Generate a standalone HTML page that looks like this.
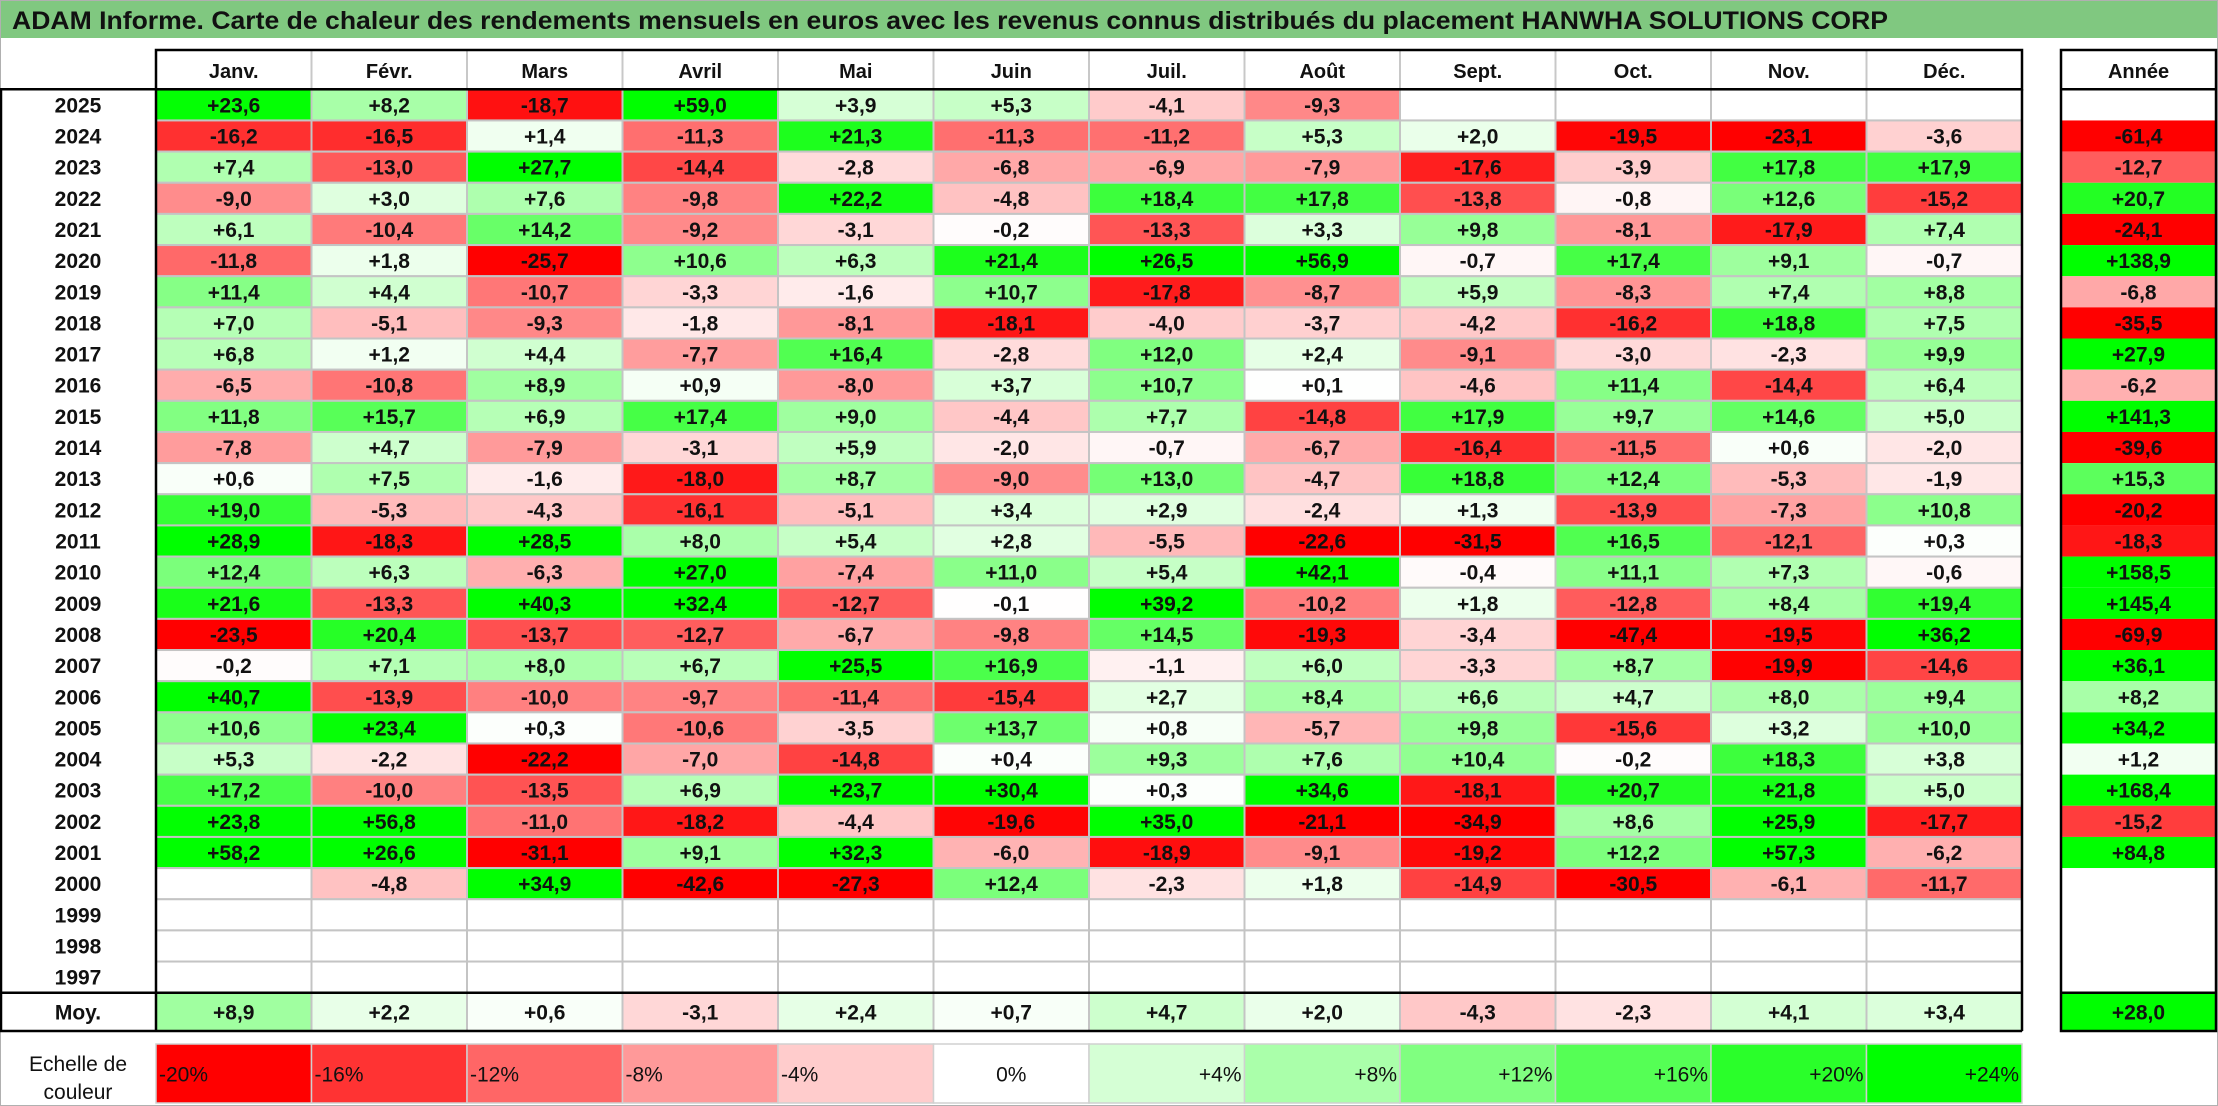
<!DOCTYPE html>
<html><head><meta charset="utf-8">
<style>
html,body{margin:0;padding:0;background:#fff;}
svg{display:block;font-family:"Liberation Sans",sans-serif;}
</style></head>
<body>
<svg id="chart" width="2218" height="1106" viewBox="0 0 2218 1106" xmlns="http://www.w3.org/2000/svg"></svg>
<script>
const months = ["Janv.","Févr.","Mars","Avril","Mai","Juin","Juil.","Août","Sept.","Oct.","Nov.","Déc."];
const years = [2025,2024,2023,2022,2021,2020,2019,2018,2017,2016,2015,2014,2013,2012,2011,2010,2009,2008,2007,2006,2005,2004,2003,2002,2001,2000,1999,1998,1997];
const N = null;
const monthly = [
[23.6,8.2,-18.7,59.0,3.9,5.3,-4.1,-9.3,N,N,N,N],
[-16.2,-16.5,1.4,-11.3,21.3,-11.3,-11.2,5.3,2.0,-19.5,-23.1,-3.6],
[7.4,-13.0,27.7,-14.4,-2.8,-6.8,-6.9,-7.9,-17.6,-3.9,17.8,17.9],
[-9.0,3.0,7.6,-9.8,22.2,-4.8,18.4,17.8,-13.8,-0.8,12.6,-15.2],
[6.1,-10.4,14.2,-9.2,-3.1,-0.2,-13.3,3.3,9.8,-8.1,-17.9,7.4],
[-11.8,1.8,-25.7,10.6,6.3,21.4,26.5,56.9,-0.7,17.4,9.1,-0.7],
[11.4,4.4,-10.7,-3.3,-1.6,10.7,-17.8,-8.7,5.9,-8.3,7.4,8.8],
[7.0,-5.1,-9.3,-1.8,-8.1,-18.1,-4.0,-3.7,-4.2,-16.2,18.8,7.5],
[6.8,1.2,4.4,-7.7,16.4,-2.8,12.0,2.4,-9.1,-3.0,-2.3,9.9],
[-6.5,-10.8,8.9,0.9,-8.0,3.7,10.7,0.1,-4.6,11.4,-14.4,6.4],
[11.8,15.7,6.9,17.4,9.0,-4.4,7.7,-14.8,17.9,9.7,14.6,5.0],
[-7.8,4.7,-7.9,-3.1,5.9,-2.0,-0.7,-6.7,-16.4,-11.5,0.6,-2.0],
[0.6,7.5,-1.6,-18.0,8.7,-9.0,13.0,-4.7,18.8,12.4,-5.3,-1.9],
[19.0,-5.3,-4.3,-16.1,-5.1,3.4,2.9,-2.4,1.3,-13.9,-7.3,10.8],
[28.9,-18.3,28.5,8.0,5.4,2.8,-5.5,-22.6,-31.5,16.5,-12.1,0.3],
[12.4,6.3,-6.3,27.0,-7.4,11.0,5.4,42.1,-0.4,11.1,7.3,-0.6],
[21.6,-13.3,40.3,32.4,-12.7,-0.1,39.2,-10.2,1.8,-12.8,8.4,19.4],
[-23.5,20.4,-13.7,-12.7,-6.7,-9.8,14.5,-19.3,-3.4,-47.4,-19.5,36.2],
[-0.2,7.1,8.0,6.7,25.5,16.9,-1.1,6.0,-3.3,8.7,-19.9,-14.6],
[40.7,-13.9,-10.0,-9.7,-11.4,-15.4,2.7,8.4,6.6,4.7,8.0,9.4],
[10.6,23.4,0.3,-10.6,-3.5,13.7,0.8,-5.7,9.8,-15.6,3.2,10.0],
[5.3,-2.2,-22.2,-7.0,-14.8,0.4,9.3,7.6,10.4,-0.2,18.3,3.8],
[17.2,-10.0,-13.5,6.9,23.7,30.4,0.3,34.6,-18.1,20.7,21.8,5.0],
[23.8,56.8,-11.0,-18.2,-4.4,-19.6,35.0,-21.1,-34.9,8.6,25.9,-17.7],
[58.2,26.6,-31.1,9.1,32.3,-6.0,-18.9,-9.1,-19.2,12.2,57.3,-6.2],
[N,-4.8,34.9,-42.6,-27.3,12.4,-2.3,1.8,-14.9,-30.5,-6.1,-11.7],
[N,N,N,N,N,N,N,N,N,N,N,N],
[N,N,N,N,N,N,N,N,N,N,N,N],
[N,N,N,N,N,N,N,N,N,N,N,N]
];
const yearly = [N,-61.4,-12.7,20.7,-24.1,138.9,-6.8,-35.5,27.9,-6.2,141.3,-39.6,15.3,-20.2,-18.3,158.5,145.4,-69.9,36.1,8.2,34.2,1.2,168.4,-15.2,84.8,N,N,N,N];
const averages = [8.9,2.2,0.6,-3.1,2.4,0.7,4.7,2.0,-4.3,-2.3,4.1,3.4];
const averageYear = 28.0;
const scaleSteps = [-20,-16,-12,-8,-4,0,4,8,12,16,20,24];

const svg = document.getElementById('chart');
const NS = "http://www.w3.org/2000/svg";
const X0 = 156, CW = 155.5, HT = 50, HB = 89.3, RH = (992.7-89.3)/29, MT = 992.7, MB = 1031, LT = 1044, LB = 1103;
const AX = 2061, AW = 155;
const colX = i => X0 + i*CW;
const rowY = r => HB + r*RH;

function color(v){
  if (v === null) return '#ffffff';
  if (v < 0){ const t = Math.min(1,-v/20); const g = Math.round(255*(1-t)); return `rgb(255,${g},${g})`; }
  const t = Math.min(1, v/24); const c = Math.round(255*(1-t)); return `rgb(${c},255,${c})`;
}
function fmt(v){ return (v>=0?'+':'-') + Math.abs(v).toFixed(1).replace('.',','); }
function el(tag, attrs, parent){
  const e = document.createElementNS(NS, tag);
  for (const k in attrs) e.setAttribute(k, attrs[k]);
  (parent||svg).appendChild(e); return e;
}
function txt(x,y,s,opts,parent){
  const t = el('text', Object.assign({x:x,y:y,'text-anchor':'middle','font-size':21,'font-weight':'bold',fill:'#111'},opts||{}), parent);
  t.textContent = s; return t;
}

// background & title
el('rect',{x:0.5,y:0.5,width:2217,height:1105,fill:'#fff',stroke:'#b0b0b0','stroke-width':1});
const title = el('rect',{x:1,y:1,width:2216,height:37,fill:'#80c880'});


const tt = txt(12,29,"ADAM Informe. Carte de chaleur des rendements mensuels en euros avec les revenus connus distribués du placement HANWHA SOLUTIONS CORP",{'text-anchor':'start','font-size':25,textLength:1876,lengthAdjust:'spacingAndGlyphs'});



// header
const hdr = el('rect',{x:X0,y:HT,width:12*CW,height:HB-HT,fill:'#fff'});
months.forEach((m,i)=>{
  const t = txt(colX(i)+CW/2, HT+28, m, {'font-size':20});
  
  
  if (i>0) el('line',{x1:colX(i),y1:HT,x2:colX(i),y2:HB,stroke:'#c8c8c8','stroke-width':2});
});
const ah = txt(AX+AW/2, HT+28, "Année", {'font-size':20});



// cells
years.forEach((y,r)=>{
  const yl = txt(X0/2, rowY(r)+RH/2+7.5, String(y));
  
  
  monthly[r].forEach((v,c)=>{
    const rc = el('rect',{x:colX(c),y:rowY(r),width:CW,height:RH,fill:color(v),stroke:'#c4c4c4','stroke-width':2});
    
    
    if (v!==null){
      const t = txt(colX(c)+CW/2, rowY(r)+RH/2+7.5, fmt(v));
      
      
    }
  });
  const ya = el('rect',{x:AX,y:rowY(r),width:AW,height:RH,fill:color(yearly[r])});
  
  
  if (yearly[r]!==null){
    const t = txt(AX+AW/2, rowY(r)+RH/2+7.5, fmt(yearly[r]));
    
    
  }
});

// averages
const ml = txt(X0/2, MT+(MB-MT)/2+7.5, "Moy.");


averages.forEach((v,c)=>{
  const rc = el('rect',{x:colX(c),y:MT,width:CW,height:MB-MT,fill:color(v),stroke:'#c4c4c4','stroke-width':2});
  
  
  const t = txt(colX(c)+CW/2, MT+(MB-MT)/2+7.5, fmt(v));
  
  
});
const av = el('rect',{x:AX,y:MT,width:AW,height:MB-MT,fill:color(averageYear)});


const avt = txt(AX+AW/2, MT+(MB-MT)/2+7.5, fmt(averageYear));



// black borders
const B = {stroke:'#000','stroke-width':2.5,fill:'none'};
el('rect',Object.assign({x:X0,y:HT,width:12*CW,height:HB-HT},B));
el('line',Object.assign({x1:0,y1:HB,x2:X0+12*CW,y2:HB},B));
el('line',Object.assign({x1:X0,y1:HB,x2:X0,y2:MB},B));
el('line',Object.assign({x1:X0+12*CW,y1:HB,x2:X0+12*CW,y2:MB},B));
el('line',Object.assign({x1:0,y1:MT,x2:X0+12*CW,y2:MT},B));
el('line',Object.assign({x1:0,y1:MB,x2:X0+12*CW,y2:MB},B));
el('line',Object.assign({x1:1,y1:HB,x2:1,y2:MB},B));
el('rect',Object.assign({x:AX,y:HT,width:AW,height:MB-HT},B));
el('line',Object.assign({x1:AX,y1:HB,x2:AX+AW,y2:HB},B));
el('line',Object.assign({x1:AX,y1:MT,x2:AX+AW,y2:MT},B));

// legend
const lg1 = txt(X0/2, 1071, "Echelle de", {'font-weight':'normal','font-size':21});


txt(X0/2, 1099, "couleur", {'font-weight':'normal','font-size':21});
scaleSteps.forEach((v,i)=>{
  const rc = el('rect',{x:colX(i),y:LT,width:CW,height:LB-LT,fill:color(v),stroke:'#d0d0d0','stroke-width':1.5});
  
  
  const s = (v>0?'+':'') + v + '%';
  let x = colX(i)+CW/2, anchor='middle';
  if (v<0){ x = colX(i)+3; anchor='start'; }
  if (v>0){ x = colX(i)+CW-3; anchor='end'; }
  const t = txt(x, LT+(LB-LT)/2+8, s, {'font-weight':'normal','font-size':21,'text-anchor':anchor});
  
  
});
</script>
</body></html>
